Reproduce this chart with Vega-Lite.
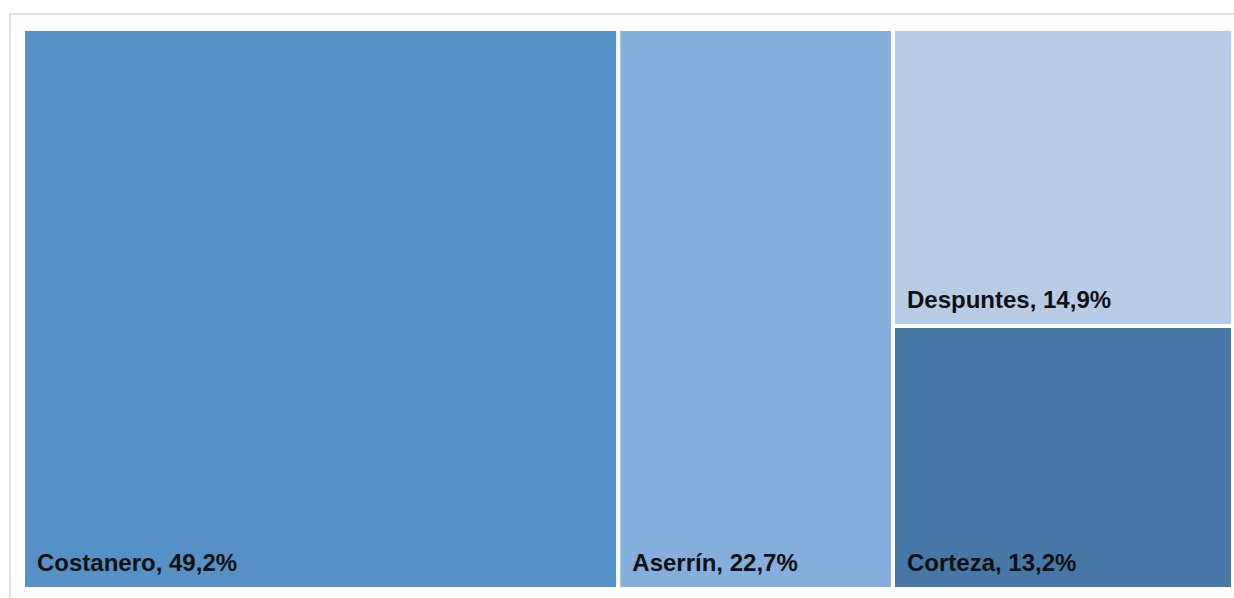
{
  "$schema": "https://vega.github.io/schema/vega-lite/v6.json",
  "width": 1240,
  "height": 600,
  "autosize": "none",
  "padding": {"left": 10, "top": 14, "right": 0, "bottom": 0},
  "background": "white",
  "config": {"view": {"stroke": "#dadada", "strokeWidth": 1.5}},
  "data": {"values": [
    {"name": "Costanero", "value": 49.2, "group": 1, "order": 1, "label": "Costanero, 49,2%"},
    {"name": "Aserrín", "value": 22.7, "group": 2, "order": 2, "label": "Aserrín, 22,7%"},
    {"name": "Despuntes", "value": 14.9, "group": 3, "order": 3, "label": "Despuntes, 14,9%"},
    {"name": "Corteza", "value": 13.2, "group": 3, "order": 4, "label": "Corteza, 13,2%"}
  ]},
  "transform": [
    {"window": [{"op": "sum", "field": "value", "as": "cum"}], "sort": [{"field": "order"}], "frame": [null, 0]},
    {"joinaggregate": [{"op": "max", "field": "cum", "as": "xe"}, {"op": "sum", "field": "value", "as": "gtot"}], "groupby": ["group"]},
    {"calculate": "datum.xe - datum.gtot", "as": "xs"},
    {"stack": "value", "groupby": ["group"], "sort": [{"field": "order"}], "as": ["ys", "ye"], "offset": "normalize"}
  ],
  "layer": [
    {
      "mark": {"type": "rect", "stroke": "white", "strokeWidth": 4},
      "encoding": {
        "x": {"field": "xs", "type": "quantitative", "scale": {"domain": [0, 100], "range": [13, 1223], "nice": false, "zero": false}, "axis": null},
        "x2": {"field": "xe"},
        "y": {"field": "ys", "type": "quantitative", "scale": {"domain": [0, 1], "range": [15, 575], "nice": false, "zero": false}, "axis": null},
        "y2": {"field": "ye"},
        "color": {"field": "name", "type": "nominal", "legend": null,
          "scale": {"domain": ["Costanero", "Aserrín", "Despuntes", "Corteza"], "range": ["#5590c6", "#85aedc", "#b8cce7", "#4677a7"]}}
      }
    },
    {
      "mark": {"type": "text", "align": "left", "baseline": "alphabetic", "dx": 14, "dy": -18, "font": "Liberation Sans", "fontWeight": "bold", "fontSize": 24, "color": "#111111"},
      "encoding": {
        "x": {"field": "xs", "type": "quantitative"},
        "y": {"field": "ye", "type": "quantitative"},
        "text": {"field": "label"}
      }
    }
  ]
}
